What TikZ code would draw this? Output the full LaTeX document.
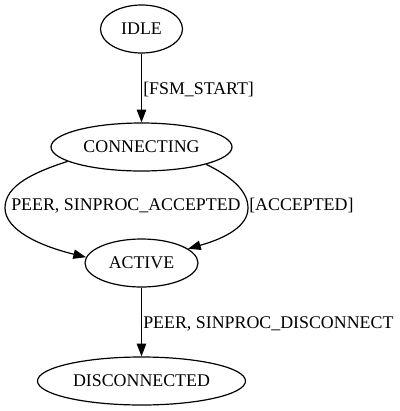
\documentclass[tikz,border=0pt]{standalone}
\usepackage{fontspec}
\setmainfont{Liberation Serif}
\usetikzlibrary{arrows.meta,shapes.geometric}
\begin{document}
\begin{tikzpicture}[x=0.75pt,y=-0.75pt,
  st/.style={draw,ellipse,line width=0.9pt,inner sep=0pt,minimum height=36pt,font=\fontsize{13.4}{16}\selectfont},
  lbl/.style={anchor=base west,inner sep=0pt,font=\fontsize{13.4}{16}\selectfont},
  conn/.style={draw,line width=0.9pt,-{Triangle[length=9.5pt,width=7pt]}}]
\useasboundingbox (0,0) rectangle (400,411);
\node[st,minimum width=61.5pt] (idle) at (141.5,29) {IDLE};
\node[st,minimum width=135.75pt] (con) at (141.5,147) {CONNECTING};
\node[st,minimum width=84.75pt] (act) at (141.5,263) {ACTIVE};
\node[st,minimum width=156pt] (dis) at (141.5,381) {DISCONNECTED};
\draw[conn] (idle) -- (con);
\node[lbl] (l1) at (143,94) {[FSM\_START]};
\draw[conn] (con.191) .. controls (35,172) and (5,185) .. (5,208)
  .. controls (5,230) and (40,246) .. (act.174);
\node[lbl] (l2) at (11,210) {PEER, SINPROC\_ACCEPTED};
\draw[conn] (con.-15) .. controls (230,176) and (248,190) .. (248,208)
  .. controls (248,226) and (226,238) .. (act.17);
\node[lbl] (l3) at (249,210) {[ACCEPTED]};
\draw[conn] (act) -- (dis);
\node[lbl] (l4) at (143,328) {PEER, SINPROC\_DISCONNECT};
\end{tikzpicture}
\end{document}
